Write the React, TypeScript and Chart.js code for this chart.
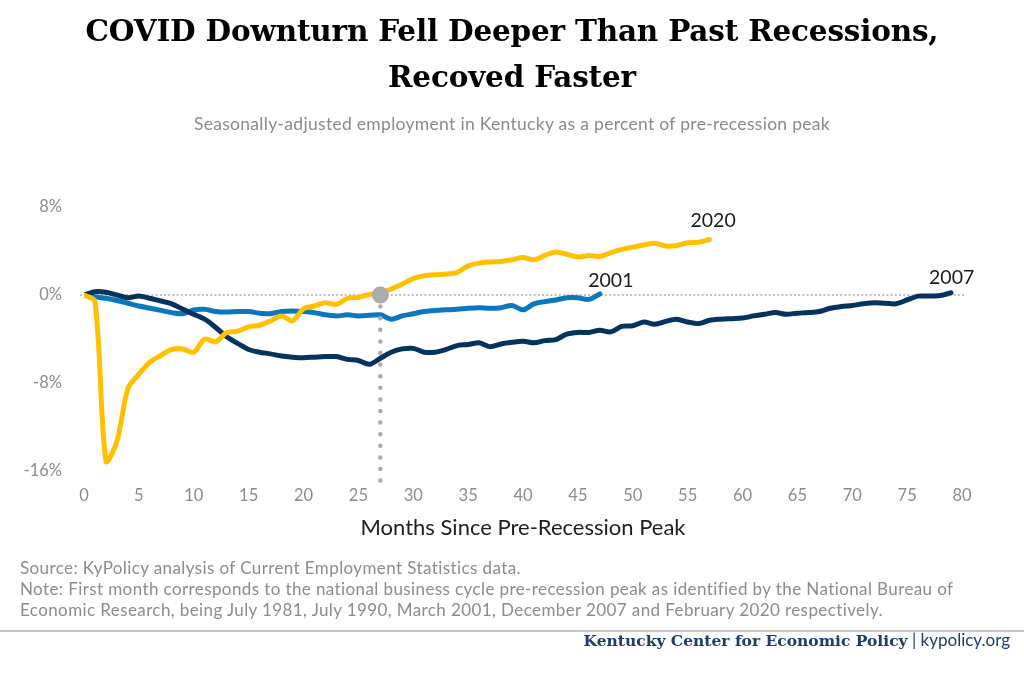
import React, { useEffect, useRef } from "react";
import { Chart, registerables } from "chart.js";

Chart.register(...registerables);

// ---- data (percent of pre-recession peak employment, by month since peak) ----
const xMin = 0;
const xMax = 80;
const xTickStep = 5;
const yMin = -16;
const yMax = 8;
const yTickValues = [-16, -8, 0, 8];
const recoveryMonth = 27;

const series2020 = [
  0, -0.6, -15.1, -13.3, -8.5, -7.2, -6.1, -5.5, -4.95, -4.9,
  -5.2, -4.0, -4.25, -3.4, -3.3, -2.9, -2.75, -2.35, -1.9, -2.35,
  -1.25, -1.0, -0.7, -0.85, -0.3, -0.2, 0.05, 0.2, 0.55, 1.0,
  1.5, 1.75, 1.85, 1.9, 2.05, 2.65, 2.9, 3.0, 3.05, 3.2,
  3.4, 3.2, 3.6, 3.9, 3.7, 3.45, 3.6, 3.5, 3.85, 4.15,
  4.35, 4.55, 4.7, 4.45, 4.5, 4.75, 4.8, 5.05,
];

const series2001 = [
  0, -0.15, -0.3, -0.5, -0.75, -1.0, -1.2, -1.4, -1.6, -1.7,
  -1.35, -1.3, -1.5, -1.55, -1.5, -1.5, -1.65, -1.7, -1.5, -1.45,
  -1.5, -1.6, -1.8, -1.9, -1.8, -1.9, -1.85, -1.8, -2.2, -1.9,
  -1.7, -1.5, -1.4, -1.35, -1.3, -1.2, -1.15, -1.2, -1.15, -0.95,
  -1.35, -0.8, -0.6, -0.45, -0.25, -0.25, -0.4, 0.1,
];

const series2007 = [
  0, 0.3, 0.25, 0, -0.25, -0.1, -0.3, -0.55, -0.8, -1.3,
  -1.75, -2.2, -2.95, -3.8, -4.4, -4.95, -5.2, -5.35, -5.55, -5.65,
  -5.7, -5.65, -5.6, -5.6, -5.85, -5.95, -6.3, -5.75, -5.2, -4.9,
  -4.85, -5.2, -5.2, -4.95, -4.6, -4.5, -4.35, -4.7, -4.45, -4.3,
  -4.2, -4.35, -4.15, -4.05, -3.55, -3.4, -3.4, -3.2, -3.35, -2.85,
  -2.8, -2.45, -2.65, -2.4, -2.2, -2.45, -2.6, -2.3, -2.2, -2.15,
  -2.1, -1.9, -1.75, -1.6, -1.75, -1.65, -1.6, -1.5, -1.2, -1.05,
  -0.95, -0.8, -0.7, -0.75, -0.8, -0.45, -0.1, -0.1, -0.05, 0.2,
];

const seriesLabels = ["2020", "2007", "2001"];
const seriesColors = ["#FFC000", "#05335F", "#0A77BF"];

const toPoints = (vals: number[]) => vals.map((v, i) => ({ x: i, y: v }));

// pixel offsets of the end-of-line labels (style, not data)
const endLabelOffsets: Record<string, [number, number]> = {
  "2020": [3.5, -18.5],
  "2001": [11, -12.7],
  "2007": [0.6, -15.3],
};

const overlayPlugin = {
  id: "overlay",
  beforeDatasetsDraw(chart: any) {
    const { ctx, chartArea, scales } = chart;
    const y0 = scales.y.getPixelForValue(0);
    ctx.save();
    ctx.strokeStyle = "#c0c0c0";
    ctx.lineWidth = 2;
    ctx.setLineDash([2, 2.2]);
    ctx.beginPath();
    ctx.moveTo(chartArea.left - 4, y0);
    ctx.lineTo(chartArea.right + 3, y0);
    ctx.stroke();
    ctx.restore();
  },
  afterDatasetsDraw(chart: any) {
    const { ctx, chartArea, scales } = chart;
    const y0 = scales.y.getPixelForValue(0);
    const xr = scales.x.getPixelForValue(recoveryMonth);
    ctx.save();
    ctx.strokeStyle = "#aaaaaa";
    ctx.lineWidth = 4.5;
    ctx.lineCap = "round";
    ctx.setLineDash([0, 11.6]);
    ctx.beginPath();
    ctx.moveTo(xr, y0);
    ctx.lineTo(xr, chartArea.bottom + 11);
    ctx.stroke();
    ctx.setLineDash([]);
    ctx.fillStyle = "#ababab";
    ctx.beginPath();
    ctx.arc(xr, y0, 8.5, 0, Math.PI * 2);
    ctx.fill();

    ctx.fillStyle = "#1a1a1a";
    ctx.font = "19.5px Lato";
    ctx.textAlign = "center";
    ctx.textBaseline = "middle";
    chart.data.datasets.forEach((ds: any, i: number) => {
      const meta = chart.getDatasetMeta(i);
      const last = meta.data[meta.data.length - 1];
      const off = endLabelOffsets[ds.label] || [0, -15];
      ctx.fillText(ds.label, last.x + off[0], last.y + off[1]);
    });
    ctx.restore();
  },
};

export default function App() {
  const ref = useRef<HTMLCanvasElement>(null);

  useEffect(() => {
    document.body.style.margin = "0";
    const allSeries = [series2020, series2007, series2001];
    const chart = new Chart(ref.current as HTMLCanvasElement, {
      type: "line",
      data: {
        datasets: allSeries.map((s, i) => ({
          label: seriesLabels[i],
          data: toPoints(s),
          borderColor: seriesColors[i],
          backgroundColor: seriesColors[i],
          borderWidth: 5,
          pointRadius: 0,
          tension: 0.3,
          borderCapStyle: "round",
          borderJoinStyle: "round",
          fill: false,
        })),
      },
      options: {
        animation: false,
        responsive: false,
        layout: { padding: { left: 0, right: 62, top: 207, bottom: 141 } },
        plugins: { legend: { display: false }, tooltip: { enabled: false } },
        scales: {
          x: {
            type: "linear",
            min: xMin,
            max: xMax,
            grid: { display: false, drawTicks: false },
            border: { display: false },
            ticks: {
              stepSize: xTickStep,
              padding: 15,
              color: "#8c8c8c",
              font: { family: "Lato", size: 16.5 },
              autoSkip: false,
              maxRotation: 0,
            },
            title: {
              display: true,
              text: "Months Since Pre-Recession Peak",
              color: "#1e1e1e",
              font: { family: "Lato", size: 22 },
              padding: { top: 4, bottom: 0 },
            },
            afterFit: (s: any) => {
              s.height = 70;
            },
          },
          y: {
            type: "linear",
            min: yMin,
            max: yMax,
            afterBuildTicks: (s: any) => {
              s.ticks = yTickValues.map((v) => ({ value: v }));
            },
            grid: { display: false, drawTicks: false },
            border: { display: false },
            ticks: {
              padding: 22,
              color: "#8c8c8c",
              font: { family: "Lato", size: 16.5 },
              callback: (v: any) => `${v}%`,
            },
            afterFit: (s: any) => {
              s.width = 84;
            },
          },
        },
      },
      plugins: [overlayPlugin],
    } as any);
    return () => chart.destroy();
  }, []);

  return (
    <div
      style={{
        position: "fixed",
        left: 0,
        top: 0,
        width: 1024,
        height: 682,
        background: "#ffffff",
        overflow: "hidden",
      }}
    >
      <canvas
        ref={ref}
        width={1024}
        height={682}
        style={{ position: "absolute", left: 0, top: 0, width: 1024, height: 682 }}
      />
      <div
        style={{
          position: "absolute",
          left: 0,
          width: 1024,
          top: 8,
          textAlign: "center",
          fontFamily: "'DejaVu Serif', serif",
          fontWeight: "bold",
          fontSize: 29.5,
          lineHeight: "46px",
          color: "#000",
          letterSpacing: "-0.2px",
        }}
      >
        COVID Downturn Fell Deeper Than Past Recessions,
        <br />
        Recoved Faster
      </div>
      <div
        style={{
          position: "absolute",
          left: 0,
          width: 1024,
          top: 114,
          textAlign: "center",
          fontFamily: "Lato, sans-serif",
          fontSize: 17.5,
          letterSpacing: "0.3px",
          lineHeight: "20px",
          color: "#8a8a8a",
        }}
      >
        Seasonally-adjusted employment in Kentucky as a percent of pre-recession peak
      </div>
      <div
        style={{
          position: "absolute",
          left: 20,
          width: 1004,
          top: 557,
          fontFamily: "Lato, sans-serif",
          fontSize: 17,
          letterSpacing: "0.4px",
          lineHeight: "21px",
          color: "#8c8c8c",
          whiteSpace: "nowrap",
        }}
      >
        Source: KyPolicy analysis of Current Employment Statistics data.
        <br />
        Note: First month corresponds to the national business cycle pre-recession peak as identified by the National Bureau of
        <br />
        Economic Research, being July 1981, July 1990, March 2001, December 2007 and February 2020 respectively.
      </div>
      <div
        style={{
          position: "absolute",
          left: 0,
          top: 630,
          width: 1024,
          height: 2,
          background: "#c4c4c4",
        }}
      />
      <div
        style={{
          position: "absolute",
          right: 14,
          top: 630,
          whiteSpace: "nowrap",
          fontFamily: "Lato, sans-serif",
          fontSize: 17,
          lineHeight: "20px",
          color: "#1c3d6e",
        }}
      >
        <span style={{ fontFamily: "'DejaVu Serif', serif", fontWeight: "bold", fontSize: 15.5 }}>
          Kentucky Center for Economic Policy
        </span>{" "}
        | kypolicy.org
      </div>
    </div>
  );
}
